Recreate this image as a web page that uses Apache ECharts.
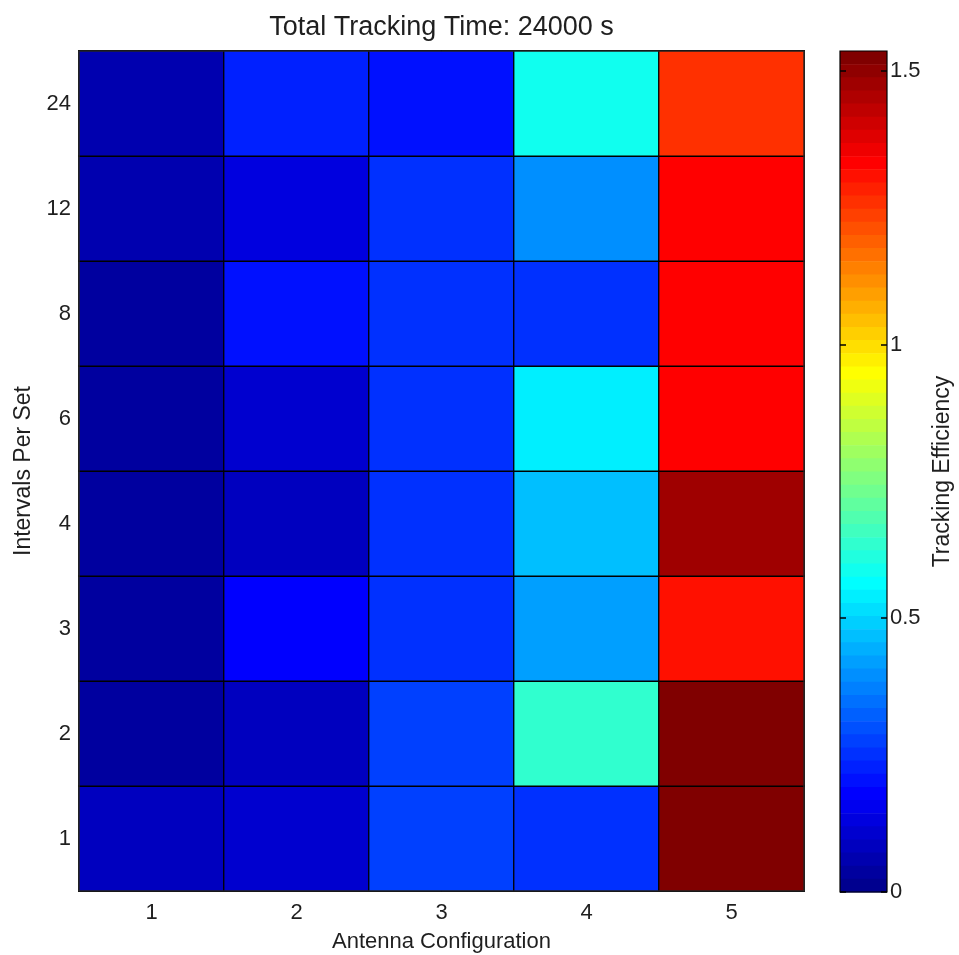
<!DOCTYPE html>
<html>
<head>
<meta charset="utf-8">
<script src="https://cdn.jsdelivr.net/npm/echarts@6/dist/echarts.min.js"></script>
<style>
  html, body { margin: 0; padding: 0; background: #fff; }
  #chart { width: 959px; height: 955px; }
</style>
</head>
<body>
<div id="chart"></div>
<script>
// ---- Data ----
const antennaConfigs = ['1', '2', '3', '4', '5'];
const intervalsPerSet = ['1', '2', '3', '4', '6', '8', '12', '24'];
// Tracking efficiency per antenna configuration, ordered by intervalsPerSet
const config1 = [0.082, 0.035, 0.040, 0.038, 0.033, 0.031, 0.058, 0.062];
const config2 = [0.108, 0.085, 0.180, 0.083, 0.106, 0.203, 0.131, 0.227];
const config3 = [0.276, 0.274, 0.252, 0.250, 0.251, 0.249, 0.252, 0.205];
const config4 = [0.250, 0.634, 0.419, 0.467, 0.539, 0.251, 0.395, 0.586];
const config5 = [1.532, 1.522, 1.305, 1.472, 1.329, 1.330, 1.328, 1.257];
const colorbarTicks = [0, 0.5, 1, 1.5];
const colorMin = 0;
const colorMax = 1.536;

// ---- MATLAB jet(64) colormap ----
function jetColormap(m) {
  const n = Math.ceil(m / 4);
  const u = [];
  for (let k = 1; k <= n; k++) u.push(k / n);
  for (let k = 1; k < n; k++) u.push(1);
  for (let k = n; k >= 1; k--) u.push(k / n);
  const g0 = Math.ceil(n / 2) - (m % 4 === 1 ? 1 : 0);
  const R = new Array(m).fill(0), G = new Array(m).fill(0), B = new Array(m).fill(0);
  for (let k = 0; k < u.length; k++) {
    const g = g0 + k + 1, r = g + n, b = g - n;
    if (g >= 1 && g <= m) G[g - 1] = u[k];
    if (r >= 1 && r <= m) R[r - 1] = u[k];
    if (b >= 1 && b <= m) B[b - 1] = u[k];
  }
  const out = [];
  for (let i = 0; i < m; i++) {
    out.push('rgb(' + Math.round(R[i] * 255) + ',' + Math.round(G[i] * 255) + ',' + Math.round(B[i] * 255) + ')');
  }
  return out;
}
const jet = jetColormap(64);

const configs = [config1, config2, config3, config4, config5];
const heatData = [];
configs.forEach((vals, xi) => {
  vals.forEach((v, yi) => heatData.push([xi, yi, v]));
});

const FONT = "'Liberation Sans', Arial, sans-serif";
const TXT = '#1f1f1f';
const CB_W = 47;
const CB_H = 841;
const CB_STEP = CB_H / 64;
const tickStyle = { color: '#000', width: 1.5 };

const chart = echarts.init(document.getElementById('chart'), null, { renderer: 'canvas' });
chart.setOption({
  animation: false,
  backgroundColor: '#ffffff',
  title: {
    text: 'Total Tracking Time: 24000 s',
    left: 441.5,
    top: 14,
    padding: 0,
    textAlign: 'center',
    textStyle: { fontFamily: FONT, fontSize: 27, fontWeight: 'normal', color: TXT }
  },
  grid: [
    { left: 79, top: 51, width: 725, height: 840, outerBoundsMode: 'none', containLabel: false, show: true, borderColor: '#333', borderWidth: 1, backgroundColor: 'transparent', z: 5 },
    { left: 840, top: 51, width: CB_W, height: CB_H, outerBoundsMode: 'none', containLabel: false, show: true, borderColor: '#000', borderWidth: 1.2, backgroundColor: 'transparent', z: 10 }
  ],
  xAxis: [
    {
      type: 'category', gridIndex: 0, data: antennaConfigs,
      name: 'Antenna Configuration', nameLocation: 'middle', nameGap: 40,
      nameTextStyle: { fontFamily: FONT, fontSize: 22, color: TXT },
      axisLine: { show: false }, axisTick: { show: false }, splitLine: { show: false },
      axisLabel: { fontFamily: FONT, fontSize: 22, color: TXT, margin: 11 }
    },
    { type: 'value', gridIndex: 1, min: 0, max: 1, show: false }
  ],
  yAxis: [
    {
      type: 'category', gridIndex: 0, data: intervalsPerSet,
      name: 'Intervals Per Set', nameLocation: 'middle', nameGap: 44, nameRotate: 90,
      nameTextStyle: { fontFamily: FONT, fontSize: 23, color: TXT },
      axisLine: { show: false }, axisTick: { show: false }, splitLine: { show: false },
      axisLabel: { fontFamily: FONT, fontSize: 22, color: TXT, margin: 8 }
    },
    {
      // colorbar labels + title (right side)
      type: 'value', gridIndex: 1, position: 'right', min: colorMin, max: colorMax, interval: 0.5,
      name: 'Tracking Efficiency', nameLocation: 'middle', nameGap: 44, nameRotate: 90,
      nameTextStyle: { fontFamily: FONT, fontSize: 23, color: TXT },
      z: 10,
      axisLine: { show: false },
      axisTick: { show: false },
      splitLine: { show: false },
      axisLabel: {
        fontFamily: FONT, fontSize: 22, color: TXT, margin: 3,
        customValues: colorbarTicks
      }
    },
    {
      // colorbar ticks on the left edge, pointing inward
      type: 'value', gridIndex: 1, position: 'left', min: colorMin, max: colorMax, interval: 0.5,
      z: 10,
      axisLine: { show: false },
      axisTick: { show: true, inside: true, length: 6, lineStyle: tickStyle, customValues: colorbarTicks },
      splitLine: { show: false },
      axisLabel: { show: false }
    },
    {
      // colorbar ticks on the right edge, pointing inward
      type: 'value', gridIndex: 1, position: 'left', offset: -CB_W, min: colorMin, max: colorMax, interval: 0.5,
      z: 10,
      axisLine: { show: false },
      axisTick: { show: true, inside: false, length: 6, lineStyle: tickStyle, customValues: colorbarTicks },
      splitLine: { show: false },
      axisLabel: { show: false }
    }
  ],
  visualMap: {
    type: 'piecewise',
    seriesIndex: 0,
    z: 1,
    min: colorMin,
    max: colorMax,
    splitNumber: 64,
    orient: 'vertical',
    left: 840,
    top: 51,
    padding: 0,
    itemWidth: CB_W,
    itemHeight: CB_STEP + 0.6,
    itemGap: -0.6,
    itemSymbol: 'rect',
    showLabel: false,
    selectedMode: false,
    hoverLink: false,
    inRange: { color: jet }
  },
  series: [{
    type: 'heatmap',
    xAxisIndex: 0,
    yAxisIndex: 0,
    data: heatData,
    itemStyle: { borderColor: '#000', borderWidth: 1.3 },
    emphasis: { disabled: true }
  }]
});
</script>
</body>
</html>
